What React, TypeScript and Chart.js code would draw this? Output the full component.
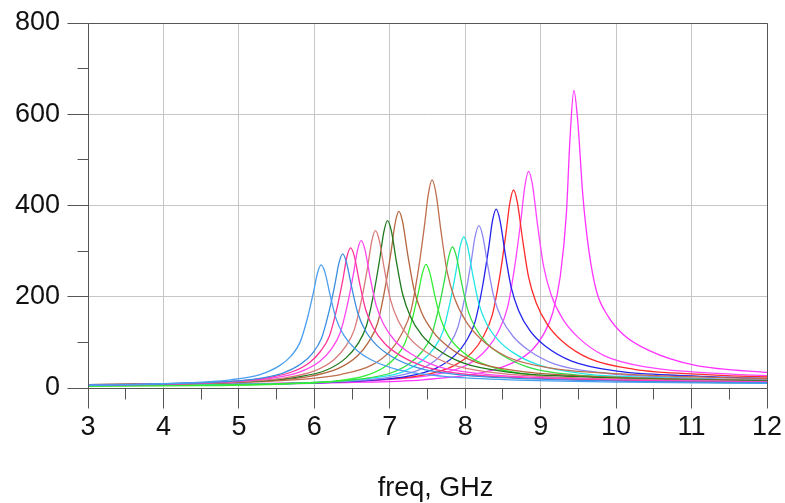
import React, { useEffect, useRef } from 'react';
import { Chart, registerables } from 'chart.js';

Chart.register(...registerables);

// ---- axis ticks ----
const X_MAJOR = [3, 4, 5, 6, 7, 8, 9, 10, 11, 12];
const X_MINOR = [3.5, 4.5, 5.5, 6.5, 7.5, 8.5, 9.5, 10.5, 11.5];
const Y_MAJOR = [0, 200, 400, 600, 800];
const Y_MINOR = [100, 300, 500, 700];

// ---- data: each trace sampled at offsets (GHz) from its resonance ----
const OFFSETS = [-6.5, -3, -2, -1.2, -0.8, -0.55, -0.4, -0.28, -0.18, -0.1, -0.05, 0, 0.05, 0.12, 0.2, 0.3, 0.45, 0.65, 1, 1.6, 2.5, 4, 6];

const PEAK_FREQS = [6.09, 6.375, 6.48, 6.62, 6.81, 6.97, 7.12, 7.48, 7.56, 7.83, 7.98, 8.18, 8.41, 8.64, 8.84, 9.44];

const COLORS = [
  '#4a9ff0', '#3a8ee0', '#ff3399', '#ff44ee', '#d97a7a', '#1e7a1e', '#b5653f', '#33ee33',
  '#bf6f4f', '#33dd44', '#22e6e6', '#8f88f2', '#2222ee', '#ff2a2a', '#ff44ff', '#ff33ff',
];

const T1 = [3, 6, 10, 18, 30, 49, 70, 100, 154, 211, 251, 270, 254, 203, 151, 116, 86, 63, 41, 26, 18, 13, 10];
const T2 = [4, 7, 11, 19, 32, 53, 76, 109, 168, 229, 273, 294, 276, 221, 165, 126, 94, 69, 44, 28, 20, 14, 11];
const T3 = [4, 7, 11, 20, 34, 55, 80, 114, 175, 239, 286, 307, 289, 230, 172, 132, 98, 72, 46, 29, 21, 15, 11];
const T4 = [4, 8, 12, 21, 36, 58, 84, 120, 184, 252, 300, 323, 304, 242, 181, 139, 103, 76, 48, 31, 22, 16, 12];
const T5 = [4, 8, 12, 22, 38, 62, 90, 128, 197, 269, 321, 345, 324, 259, 193, 148, 110, 81, 52, 33, 23, 17, 12];
const T6 = [4, 9, 13, 24, 40, 66, 95, 136, 209, 286, 341, 367, 345, 275, 206, 158, 117, 86, 55, 35, 25, 18, 13];
const T7 = [5, 9, 14, 25, 43, 70, 101, 143, 221, 302, 360, 387, 364, 290, 217, 166, 124, 91, 58, 37, 26, 19, 14];
const T8 = [2, 5, 8, 15, 27, 46, 68, 98, 152, 210, 250, 271, 253, 200, 149, 113, 84, 61, 40, 25, 17, 12, 9];
const T9 = [5, 11, 16, 30, 50, 82, 119, 169, 260, 356, 424, 456, 429, 342, 255, 196, 146, 107, 68, 43, 31, 22, 16];
const T10 = [4, 7, 11, 20, 34, 56, 80, 114, 176, 241, 287, 309, 290, 232, 173, 133, 99, 73, 46, 29, 21, 15, 11];
const T11 = [4, 8, 12, 22, 36, 60, 86, 122, 189, 258, 308, 331, 311, 248, 185, 142, 106, 78, 50, 31, 23, 16, 12];
const T12 = [4, 9, 13, 23, 39, 64, 93, 132, 203, 278, 331, 356, 335, 267, 199, 153, 114, 84, 53, 34, 24, 17, 13];
const T13 = [5, 9, 14, 25, 43, 71, 102, 145, 223, 306, 365, 392, 368, 294, 220, 169, 125, 92, 59, 37, 27, 19, 14];
const T14 = [5, 10, 16, 28, 48, 78, 113, 161, 247, 339, 404, 434, 408, 326, 243, 187, 139, 102, 65, 41, 30, 21, 16];
const T15 = [6, 11, 17, 31, 52, 86, 124, 176, 271, 371, 442, 475, 447, 356, 266, 204, 152, 112, 71, 45, 32, 23, 17];
const T16 = [5, 12, 18, 34, 56, 84, 118, 165, 245, 380, 550, 652, 588, 420, 300, 212, 158, 118, 82, 50, 35, 25, 20];

const TRACES = [T1, T2, T3, T4, T5, T6, T7, T8, T9, T10, T11, T12, T13, T14, T15, T16];

const FONT = "'Liberation Sans', Arial, sans-serif";
const AXIS_COLOR = '#555555';
const GRID_COLOR = '#c6c6c6';

const axesPlugin = {
  id: 'adsAxes',
  beforeDraw(chart: any) {
    const s = chart.scales.x;
    if (s && !s._titleShifted) {
      const orig = s.drawTitle.bind(s);
      s.drawTitle = (...args: any[]) => {
        const c = chart.ctx;
        c.save();
        c.translate(8, 0);
        orig(...args);
        c.restore();
      };
      s._titleShifted = true;
    }
  },
  afterDatasetsDraw(chart: any) {
    const { ctx, chartArea: a, scales } = chart;
    const xs = scales.x;
    const ys = scales.y;
    const px = (v: number) => Math.floor(v) + 0.5;
    ctx.save();
    ctx.strokeStyle = AXIS_COLOR;
    ctx.lineWidth = 1;
    ctx.beginPath();
    ctx.moveTo(px(a.left), px(a.top));
    ctx.lineTo(px(a.right), px(a.top));
    ctx.lineTo(px(a.right), px(a.bottom));
    ctx.lineTo(px(a.left), px(a.bottom));
    ctx.closePath();
    X_MAJOR.forEach((v) => {
      const x = px(xs.getPixelForValue(v));
      ctx.moveTo(x, px(a.bottom));
      ctx.lineTo(x, px(a.bottom) + 20);
    });
    X_MINOR.forEach((v) => {
      const x = px(xs.getPixelForValue(v));
      ctx.moveTo(x, px(a.bottom));
      ctx.lineTo(x, px(a.bottom) + 11);
    });
    Y_MAJOR.forEach((v) => {
      const y = px(ys.getPixelForValue(v));
      ctx.moveTo(px(a.left), y);
      ctx.lineTo(px(a.left) - 21, y);
    });
    Y_MINOR.forEach((v) => {
      const y = px(ys.getPixelForValue(v));
      ctx.moveTo(px(a.left), y);
      ctx.lineTo(px(a.left) - 11, y);
    });
    ctx.stroke();
    ctx.restore();
  },
};

export default function App() {
  const ref = useRef<HTMLCanvasElement | null>(null);

  useEffect(() => {
    if (!ref.current) return;
    const datasets = TRACES.map((vals, k) => ({
      data: OFFSETS.map((o, i) => ({ x: PEAK_FREQS[k] + o, y: vals[i] })),
      borderColor: COLORS[k],
      backgroundColor: COLORS[k],
      borderWidth: 1.3,
      pointRadius: 0,
      fill: false,
      cubicInterpolationMode: 'monotone' as const,
    }));

    const chart = new Chart(ref.current, {
      type: 'line',
      data: { datasets },
      options: {
        animation: false,
        responsive: false,
        devicePixelRatio: 1,
        layout: { padding: { left: 0, right: 18, top: 23, bottom: 0 } },
        plugins: {
          legend: { display: false },
          tooltip: { enabled: false },
        },
        scales: {
          x: {
            type: 'linear',
            min: 3,
            max: 12,
            afterBuildTicks: (s: any) => {
              s.ticks = X_MAJOR.map((v) => ({ value: v }));
            },
            afterFit: (s: any) => {
              s.height = 115;
              s.paddingLeft = 0;
              s.paddingRight = 0;
            },
            ticks: {
              autoSkip: false,
              maxRotation: 0,
              padding: 23,
              color: '#111',
              font: { family: FONT, size: 27 },
            },
            grid: { color: GRID_COLOR, lineWidth: 1, drawTicks: false },
            border: { display: false },
            title: {
              display: true,
              text: 'freq, GHz',
              color: '#111',
              padding: 0,
              font: { family: FONT, size: 27, lineHeight: 1.1 },
            },
          },
          y: {
            type: 'linear',
            min: 0,
            max: 800,
            afterBuildTicks: (s: any) => {
              s.ticks = Y_MAJOR.map((v) => ({ value: v }));
            },
            afterFit: (s: any) => {
              s.width = 88;
              s.paddingTop = 0;
              s.paddingBottom = 0;
            },
            ticks: {
              padding: 28,
              color: '#111',
              font: { family: FONT, size: 27 },
            },
            grid: { color: GRID_COLOR, lineWidth: 1, drawTicks: false },
            border: { display: false },
          },
        },
      },
      plugins: [axesPlugin],
    });
    return () => chart.destroy();
  }, []);

  return (
    <div style={{ position: 'fixed', left: 0, top: 0, width: 785, height: 503, background: '#fff' }}>
      <canvas ref={ref} width={785} height={503} style={{ display: 'block', width: 785, height: 503 }} />
    </div>
  );
}
